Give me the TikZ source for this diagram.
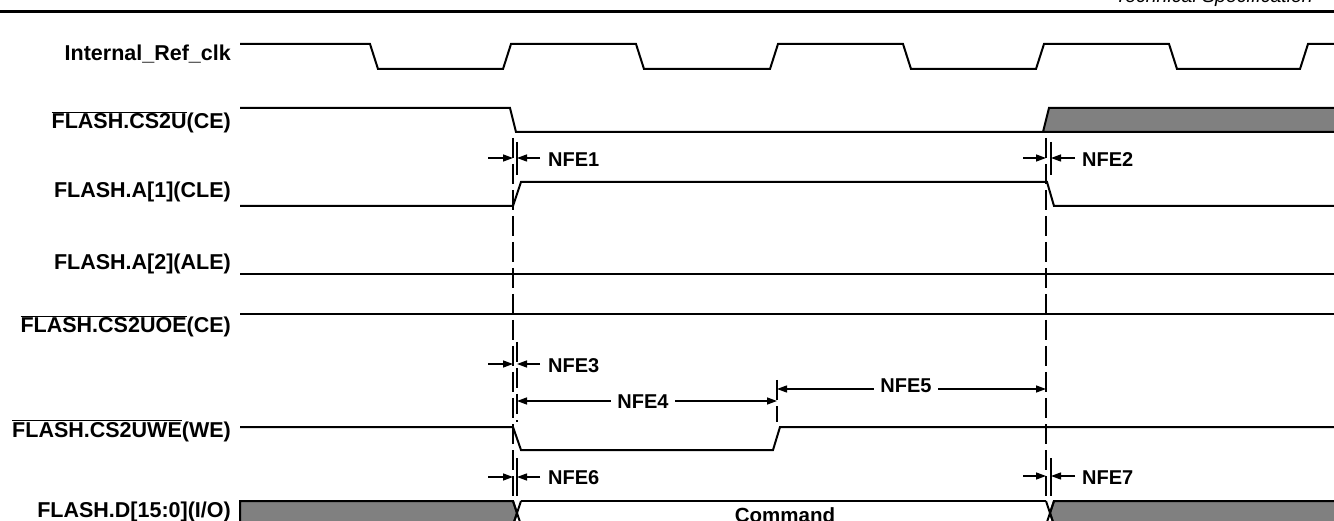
\documentclass[tikz,border=0pt]{standalone}
\usepackage{fontspec}
\setmainfont{Liberation Sans}
\usetikzlibrary{arrows.meta}
\definecolor{busgray}{RGB}{128,128,128}
\begin{document}
\begin{tikzpicture}[x=1pt,y=-1pt,
  sig/.style={line width=2pt, line join=miter},
  lab/.style={font=\fontsize{21.5}{24}\selectfont\bfseries, anchor=base east, inner sep=0pt},
  nfe/.style={font=\fontsize{20}{24}\selectfont\bfseries, anchor=west, inner sep=0pt},
  midlab/.style={font=\fontsize{20}{24}\selectfont\bfseries, fill=white, inner xsep=6pt, inner ysep=1pt},
  vdashed/.style={line width=1.3pt, dash pattern=on 20pt off 6pt},
  tickline/.style={line width=1.3pt},
  meas/.style={line width=1.3pt, -{Triangle[length=10pt,width=7pt]}},
  measboth/.style={line width=1.3pt, {Triangle[length=10pt,width=7pt]}-{Triangle[length=10pt,width=7pt]}},
  bus/.style={fill=busgray, draw=black, line width=2pt, line join=miter}
]
\useasboundingbox (0,0) rectangle (1334,521);

% header
\draw[line width=3.5pt] (0,11.5) -- (1334,11.5);
\node[font=\fontsize{19.5}{22}\selectfont\itshape, anchor=base east, inner sep=0pt] (hdr) at (1313,3) {Technical Specification};

% labels
\node[lab] (lclk) at (231,61) {Internal\_Ref\_clk};
\node[lab] (lce)  at (231,129) {$\overline{\mbox{FLASH.CS2U}}$(CE)};
\node[lab] (lcle) at (231,198) {FLASH.A[1](CLE)};
\node[lab] (lale) at (231,270) {FLASH.A[2](ALE)};
\node[lab] (loe)  at (231,333) {$\overline{\mbox{FLASH.CS2UOE}}$(CE)};
\node[lab] (lwe)  at (231,437) {$\overline{\mbox{FLASH.CS2UWE}}$(WE)};
\node[lab] (ld)   at (231,517) {FLASH.D[15:0](I/O)};

% clock
\draw[sig] (240,44) -- (370,44) -- (378,69) -- (503,69) -- (511,44) -- (636,44) -- (644,69)
  -- (770,69) -- (778,44) -- (903,44) -- (911,69) -- (1036,69) -- (1044,44) -- (1169,44)
  -- (1177,69) -- (1300,69) -- (1308,44) -- (1340,44);

% CE
\draw[bus] (1043,132) -- (1049,108) -- (1345,108) -- (1345,132) -- cycle;
\draw[sig] (240,108) -- (510,108) -- (516,132) -- (1045,132);

% CLE
\draw[sig] (240,206) -- (513,206) -- (521,182) -- (1047,182) -- (1054,206) -- (1340,206);
% ALE, OE
\draw[sig] (240,274) -- (1340,274);
\draw[sig] (240,314) -- (1340,314);
% WE
\draw[sig] (240,427) -- (513,427) -- (521,450) -- (773,450) -- (780,427) -- (1340,427);

% data bus
\draw[bus] (240,530) -- (240,501) -- (513,501) -- (517,513) -- (513,525) -- (240,525);
\draw[bus] (1345,501) -- (1054,501) -- (1050,513) -- (1054,525) -- (1345,525);
\draw[sig] (513,501) -- (521,525);
\draw[sig] (513,525) -- (521,501);
\draw[sig] (1046,501) -- (1054,525);
\draw[sig] (1046,525) -- (1054,501);
\draw[sig] (521,501) -- (1046,501);
\draw[sig] (521,525) -- (1046,525);
\node[font=\fontsize{20.5}{24}\selectfont\bfseries, anchor=base, inner sep=0pt] (cmd) at (785,522) {Command};

% dashed reference lines
\draw[vdashed] (513,138) -- (513,500);
\draw[vdashed] (1046,138) -- (1046,500);
\draw[tickline] (517,142) -- (517,175);
\draw[tickline] (1051,142) -- (1051,175);
\draw[vdashed] (517,342) -- (517,422);
\draw[tickline] (517,458) -- (517,496);
\draw[tickline] (1051,458) -- (1051,496);
\draw[vdashed] (777,380) -- (777,422);

% measurement coordinates
\coordinate (a1l) at (488,158); \coordinate (a1r) at (540,158);
\coordinate (b1l) at (513,158); \coordinate (b1r) at (517,158);
\coordinate (a2l) at (1023,158); \coordinate (a2r) at (1075,158);
\coordinate (b2l) at (1046,158); \coordinate (b2r) at (1051,158);
\coordinate (a3l) at (488,364); \coordinate (a3r) at (540,364);
\coordinate (b3l) at (513,364); \coordinate (b3r) at (517,364);
\coordinate (a4l) at (517,401); \coordinate (a4r) at (777,401);
\coordinate (a5l) at (777,389); \coordinate (a5r) at (1046,389);
\coordinate (a6l) at (488,477); \coordinate (a6r) at (540,477);
\coordinate (b6l) at (513,477); \coordinate (b6r) at (517,477);
\coordinate (a7l) at (1023,476); \coordinate (a7r) at (1075,476);
\coordinate (b7l) at (1046,476); \coordinate (b7r) at (1051,476);

\draw[meas] (a1l) -- (b1l); \draw[meas] (a1r) -- (b1r);
\node[nfe] (nfe1) at (548,160) {NFE1};
\draw[meas] (a2l) -- (b2l); \draw[meas] (a2r) -- (b2r);
\node[nfe] (nfe2) at (1082,160) {NFE2};
\draw[meas] (a3l) -- (b3l); \draw[meas] (a3r) -- (b3r);
\node[nfe] (nfe3) at (548,366) {NFE3};
\draw[measboth] (a4l) -- (a4r);
\node[midlab] (nfe4) at (643,402) {NFE4};
\draw[measboth] (a5l) -- (a5r);
\node[midlab] (nfe5) at (906,386) {NFE5};
\draw[meas] (a6l) -- (b6l); \draw[meas] (a6r) -- (b6r);
\node[nfe] (nfe6) at (548,478) {NFE6};
\draw[meas] (a7l) -- (b7l); \draw[meas] (a7r) -- (b7r);
\node[nfe] (nfe7) at (1082,478) {NFE7};
\end{tikzpicture}
\end{document}
